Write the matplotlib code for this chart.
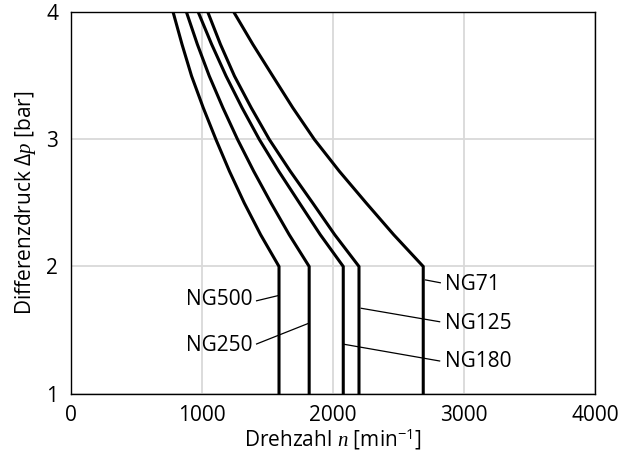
import matplotlib.pyplot as plt

plt.rcParams['font.family'] = ['Open Sans', 'DejaVu Sans']
plt.rcParams['mathtext.fontset'] = 'custom'
plt.rcParams['mathtext.it'] = 'Liberation Serif:italic'
plt.rcParams['mathtext.rm'] = 'Open Sans'

# pressure levels [bar] and speed [1/min]
pressure = [1, 2, 2.25, 2.5, 2.75, 3, 3.25, 3.5, 3.75, 4]
ng500 = [1590, 1590, 1450, 1325, 1212, 1109, 1012, 923, 850, 783]
ng250 = [1820, 1820, 1668, 1529, 1397, 1274, 1162, 1058, 967, 885]
ng180 = [2080, 2080, 1905, 1746, 1588, 1440, 1308, 1186, 1076, 975]
ng125 = [2200, 2200, 2015, 1847, 1676, 1516, 1378, 1250, 1143, 1048]
ng71 = [2690, 2690, 2465, 2255, 2050, 1860, 1695, 1542, 1390, 1247]

curves = [ng500, ng250, ng180, ng125, ng71]

# label texts, label anchor, leader start (on curve) and end
labels = ['NG500', 'NG250', 'NG180', 'NG125', 'NG71']
label_pos = [(1389, 1.74), (1389, 1.38), (2853, 1.25), (2853, 1.555), (2853, 1.862)]
leader_from = [(1580, 1.77), (1809, 1.55), (2089, 1.387), (2217, 1.671), (2708, 1.894)]
leader_to = [(1419, 1.73), (1419, 1.39), (2815, 1.256), (2815, 1.565), (2820, 1.872)]

fig = plt.figure(figsize=(6.22, 4.59), dpi=100)
ax = fig.add_axes([0.1134, 0.1427, 0.8432, 0.8301])

for c in curves:
    ax.plot(c, pressure, color='black', lw=2.2, solid_joinstyle='miter', zorder=3)

for name, pos, p0, p1 in zip(labels, label_pos, leader_from, leader_to):
    ax.plot([p0[0], p1[0]], [p0[1], p1[1]], color='black', lw=0.9, zorder=3)
    ha = 'right' if pos[0] < 2000 else 'left'
    ax.text(pos[0], pos[1], name, ha=ha, va='center', fontsize=15)

ax.set_xlim(0, 4000)
ax.set_ylim(1, 4)
ax.set_xticks([0, 1000, 2000, 3000, 4000])
ax.set_yticks([1, 2, 3, 4])
ax.grid(color='#d9d9d9', lw=1.3)
ax.set_axisbelow(True)
ax.tick_params(length=0, labelsize=15)
ax.tick_params(axis='x', pad=8)
ax.tick_params(axis='y', pad=9)
for s in ax.spines.values():
    s.set_linewidth(1.0)

ax.set_xlabel(r'Drehzahl $\mathit{n}$ [min$^{\mathrm{-1}}$]', fontsize=15, labelpad=1)
ax.set_ylabel(r'Differenzdruck $\mathit{Δp}$ [bar]', fontsize=15, labelpad=6)

fig.savefig('out.png', dpi=100)
